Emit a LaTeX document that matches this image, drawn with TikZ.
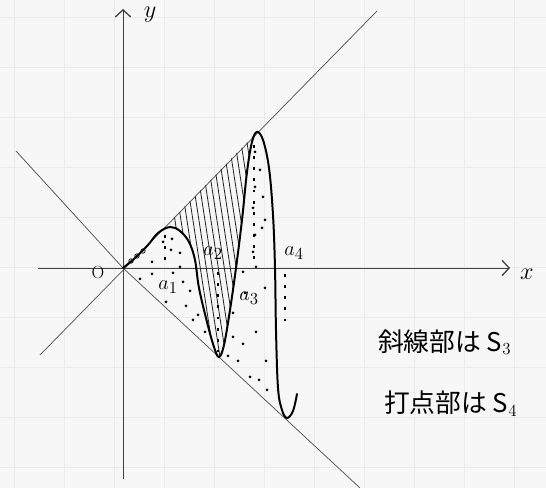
\documentclass[tikz,border=0pt]{standalone}
\usepackage{fontspec}
\newfontfamily\jpfont{Noto Sans CJK JP}
\usetikzlibrary{arrows.meta}

\begin{document}
\begin{tikzpicture}[x=0.03cm, y=-0.03cm,
    >={Straight Barb[length=6pt, width=13pt, line width=1.1pt]},
    axis/.style={line width=0.8pt, black!75},
    diag/.style={line width=0.6pt, black!70},
    graph/.style={line width=1.7pt, black, line cap=round, line join=round},
    marker/.style={line width=1.1pt, black, dash pattern=on 2.5pt off 7pt},
    hatchline/.style={line width=0.7pt, black!85},
    lbl/.style={font=\fontsize{19}{20}\selectfont},
    note/.style={font=\jpfont\fontsize{22}{24}\selectfont, anchor=west}]
  % paper
  \fill[black!3] (0,0) rectangle (546,488);
  \useasboundingbox (0,0) rectangle (546,488);
  \foreach \i in {14,64,...,514} \draw[black!8, line width=0.4pt] (\i,0) -- (\i,488);
  \foreach \j in {17,67,...,467} \draw[black!8, line width=0.4pt] (0,\j) -- (546,\j);

  % axes
  \draw[axis, ->] (38,268) -- (510,268);
  \draw[axis, ->] (123,479) -- (123,9);
  \node[lbl, font=\fontsize{22}{24}\selectfont] (xlab) at (527,274) {$x$};
  \node[lbl, font=\fontsize{22}{24}\selectfont] (ylab) at (150,15) {$y$};
  \node[lbl, font=\fontsize{15}{16}\selectfont] (olab) at (98,273) {O};

  % y = x and y = -x
  \draw[diag] (40,355) -- (377,11);
  \draw[diag] (16,151) -- (123,268) -- (360,488);

  % S3 hatching
  \begin{scope}
    \clip plot[smooth, tension=0.6] coordinates {(170,227) (180,231) (189,242) (195,260)
      (199,288) (207,322) (214,347) (219,357) (224,345) (230,310) (236,268) (242,220)
      (247,172) (252,142) (257,132)} -- (170,222) -- cycle;
    \foreach \i in {140,146,...,260} \draw[hatchline] (\i,110) -- (\i+40,370);
  \end{scope}
  \foreach \px/\py in {131/261, 137/256, 143/251}
    \draw[line width=0.6pt] (\px,\py) circle[radius=2.2];

  % S4 dots
  \foreach \px/\py in {163/242, 172/239, 171/250, 180/253, 152/262, 180/267, 152/274,
      173/273, 140/279, 183/282, 190/291, 166/302, 186/306, 193/320, 198/315, 205/332,
      255/152, 260/170, 255/187, 263/197, 253/208, 265/220, 262/228, 255/235, 253/252,
      243/272, 256/267, 265/288, 245/293, 233/313, 256/332, 233/337, 243/344, 228/356,
      238/361, 266/361, 250/377, 259/380, 267/390}
    \fill (\px,\py) circle[radius=1.5];

  % a_n markers
  \draw[marker] (165,235) -- (165,268);
  \draw[marker] (218,272) -- (218,352);
  \draw[marker] (254,145) -- (254,266);
  \draw[marker] (285,274) -- (285,325);
  \node[lbl] (a1) at (168,287) {$a_1$};
  \node[lbl] (a2) at (213,253) {$a_2$};
  \node[lbl] (a3) at (249,298) {$a_3$};
  \node[lbl] (a4) at (294,253) {$a_4$};

  % curve
  \draw[graph] plot[smooth, tension=0.6] coordinates {(123,268) (135,258) (148,245)
    (158,233) (170,227) (180,231) (189,242) (195,260) (199,288) (207,322) (214,347)
    (219,357) (224,345) (230,310) (236,268) (242,220) (247,172) (252,142) (257,132)
    (263,140) (269,168) (273,215) (275,268) (276,330) (278,388) (282,410) (287,418)
    (293,411) (297,394)};

  % notes
  \node[note] (s3) at (374,342) {斜線部は S$_3$};
  \node[note] (s4) at (380,404) {打点部は S$_4$};
\end{tikzpicture}
\end{document}
